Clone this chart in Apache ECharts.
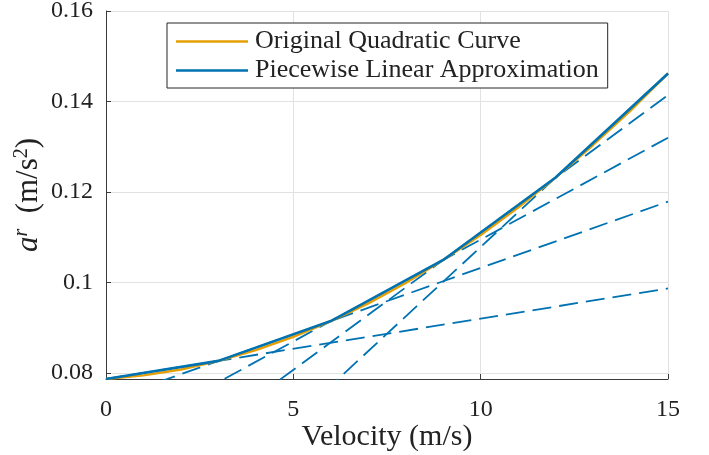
<!DOCTYPE html>
<html>
<head>
<meta charset="utf-8">
<script src="https://cdn.jsdelivr.net/npm/echarts@6/dist/echarts.min.js"></script>
<style>
html,body{margin:0;padding:0;background:#fff;}
#chart{width:709px;height:455px;}
</style>
</head>
<body>
<div id="chart"></div>
<script>
// Data
const velocity = [0,1,2,3,4,5,6,7,8,9,10,11,12,13,14,15];
const quadratic = [0.0787,0.0795,0.0808,0.0827,0.0851,0.0880,0.0915,0.0954,0.0999,0.1050,0.1105,0.1166,0.1232,0.1304,0.1380,0.1462];
const breakVelocity = [0,3,6,9,12,15];
const breakAccel = [0.0787,0.0827,0.0915,0.1050,0.1232,0.1462];
// extended segment lines: value at v=0 and at v=15
const extStart = [0.0787,0.0739,0.0645,0.0504,0.0312];
const extEnd = [0.0987,0.1179,0.1320,0.1414,0.1462];
const xTicks = [0,5,10,15];
const yTicks = [0.08,0.10,0.12,0.14,0.16];
const yTickLabels = ['0.08','0.1','0.12','0.14','0.16'];

const FONT = 'Liberation Serif';
const AXC = '#3a3a3a';
const GRIDC = '#e2e2e2';
const BLUE = '#0072B2';
const ORANGE = '#E69F00';
const TXT = '#222';

const series = [];
for (let i = 0; i < extStart.length; i++) {
  series.push({
    name: 'ext' + i,
    type: 'line',
    symbol: 'none',
    silent: true,
    clip: true,
    data: [[velocity[0], extStart[i]], [velocity[velocity.length-1], extEnd[i]]],
    lineStyle: {color: BLUE, width: 1.8, type: [19, 8]},
    z: 2
  });
}
series.push({
  name: 'Original Quadratic Curve',
  type: 'line',
  symbol: 'none',
  data: velocity.map((v, i) => [v, quadratic[i]]),
  lineStyle: {color: ORANGE, width: 2.4},
  itemStyle: {color: ORANGE},
  z: 3
});
series.push({
  name: 'Piecewise Linear Approximation',
  type: 'line',
  symbol: 'none',
  data: breakVelocity.map((v, i) => [v, breakAccel[i]]),
  lineStyle: {color: BLUE, width: 2.6},
  itemStyle: {color: BLUE},
  z: 4
});

const chart = echarts.init(document.getElementById('chart'), null, {renderer: 'canvas'});
chart.setOption({
  animation: false,
  backgroundColor: '#fff',
  textStyle: {fontFamily: FONT},
  grid: {left: 106, right: 41, top: 11, bottom: 76, containLabel: false, outerBoundsMode: 'none'},
  legend: {
    data: ['Original Quadratic Curve', 'Piecewise Linear Approximation'],
    orient: 'vertical',
    left: 167,
    top: 23,
    padding: [4, 9, 3, 9],
    itemGap: 0,
    itemWidth: 72,
    itemHeight: 2.5,
    icon: 'rect',
    backgroundColor: '#fff',
    borderColor: '#262626',
    borderWidth: 1,
    borderRadius: 0,
    textStyle: {fontFamily: FONT, fontSize: 26, color: TXT, lineHeight: 29, padding: [0, 0, 0, 2]},
    selectedMode: false
  },
  xAxis: {
    type: 'value',
    min: 0, max: 15, interval: 5,
    name: 'Velocity (m/s)',
    nameLocation: 'middle',
    nameGap: 42,
    nameMoveOverlap: false,
    nameTextStyle: {fontFamily: FONT, fontSize: 30, color: TXT, lineHeight: 32},
    axisLine: {show: true, lineStyle: {color: AXC, width: 1}},
    axisTick: {show: true, inside: true, length: 5, lineStyle: {color: AXC}, customValues: xTicks},
    axisLabel: {fontFamily: FONT, fontSize: 24, color: TXT, margin: 19, customValues: xTicks},
    splitLine: {show: true, lineStyle: {color: GRIDC, width: 1}}
  },
  yAxis: {
    type: 'value',
    min: 0.0787, max: 0.16,
    name: '{i|a}{r|r}{n|  (m/s}{s|2}{n|)}',
    nameLocation: 'middle',
    nameGap: 60,
    nameRotate: 90,
    nameMoveOverlap: false,
    nameTextStyle: {
      fontFamily: FONT, fontSize: 31, color: TXT,
      rich: {
        i: {fontFamily: FONT, fontSize: 31, fontStyle: 'italic', color: TXT, lineHeight: 34},
        n: {fontFamily: FONT, fontSize: 31, color: TXT, lineHeight: 34},
        r: {fontFamily: FONT, fontSize: 20, fontStyle: 'italic', color: TXT, lineHeight: 20, verticalAlign: 'top'},
        s: {fontFamily: FONT, fontSize: 20, color: TXT, lineHeight: 20, verticalAlign: 'top'}
      }
    },
    axisLine: {show: true, lineStyle: {color: AXC, width: 1}},
    axisTick: {show: true, inside: true, length: 5, lineStyle: {color: AXC}, customValues: yTicks},
    axisLabel: {
      fontFamily: FONT, fontSize: 24, color: TXT, margin: 13,
      customValues: yTicks,
      formatter: function (v) {
        const idx = yTicks.findIndex(t => Math.abs(t - v) < 1e-9);
        return idx >= 0 ? yTickLabels[idx] : '';
      }
    },
    splitLine: {show: true, lineStyle: {color: GRIDC, width: 1}}
  },
  series: series
});
</script>
</body>
</html>
